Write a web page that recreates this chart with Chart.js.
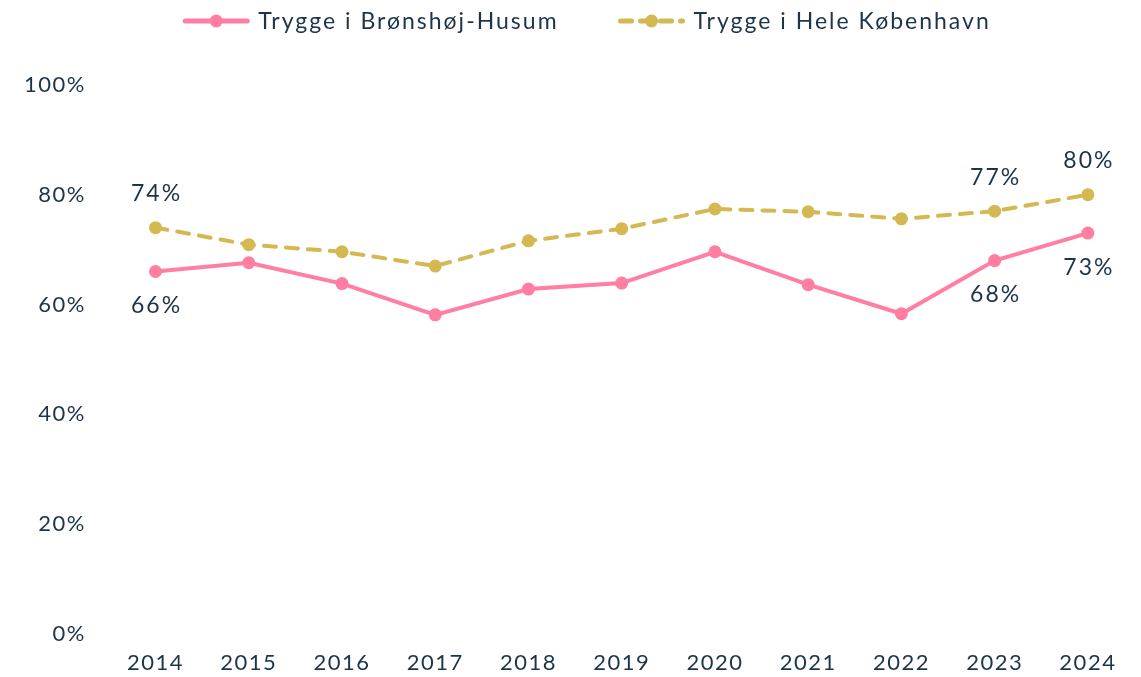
<!DOCTYPE html>
<html lang="da">
<head>
<meta charset="utf-8">
<title>Tryghed</title>
<script src="https://cdn.jsdelivr.net/npm/chart.js@4.4.1/dist/chart.umd.min.js"></script>
<style>
    html, body { margin: 0; padding: 0; background: #ffffff; }
    #wrap { width: 1141px; height: 677px; }
</style>
</head>
<body>
<div id="wrap"><canvas id="chart"></canvas></div>
<script>
const years = ['2014', '2015', '2016', '2017', '2018', '2019', '2020', '2021', '2022', '2023', '2024'];
const brønshøjHusum = [66, 67.6, 63.8, 58.1, 62.8, 63.9, 69.6, 63.6, 58.3, 68, 73];
const heleKøbenhavn = [74, 70.9, 69.6, 67.0, 71.6, 73.8, 77.4, 76.9, 75.6, 77, 80];
const yTicks = [0, 20, 40, 60, 80, 100];
// years that get a value label
const labelledIndexes = [0, 9, 10];

const textColor = '#1d3449';
const pink = '#ff7ea2';
const gold = '#d4b852';
const fontFamily = 'Lato, "Noto Sans", sans-serif';

// Lato is a bit narrow, so open up the tracking on everything drawn
const tracking = {
    id: 'tracking',
    beforeUpdate(chart) {
        chart.ctx.letterSpacing = '1.5px';
    },
    beforeDraw(chart) {
        chart.ctx.letterSpacing = '1.5px';
    }
};

// value labels: gold above its points, pink below
const valueLabels = {
    id: 'valueLabels',
    afterDatasetsDraw(chart) {
        const { ctx } = chart;
        ctx.save();
        ctx.font = `23px ${fontFamily}`;
        ctx.letterSpacing = '2px';
        ctx.fillStyle = textColor;
        ctx.textAlign = 'center';
        ctx.textBaseline = 'middle';
        chart.data.datasets.forEach((dataset, i) => {
            const meta = chart.getDatasetMeta(i);
            const offset = dataset.labelSide === 'above' ? -34 : 34;
            labelledIndexes.forEach(index => {
                const point = meta.data[index];
                ctx.fillText(Math.round(dataset.data[index]) + '%', point.x + 1, point.y + offset);
            });
        });
        ctx.restore();
    }
};

// legend with a short line sample and a marker in the middle
const lineLegend = {
    id: 'lineLegend',
    afterDraw(chart) {
        const { ctx } = chart;
        const sampleWidth = 68;
        const textGap = 8;
        const itemGap = 59;
        const y = 21;
        ctx.save();
        ctx.font = `23px ${fontFamily}`;
        ctx.letterSpacing = '2px';
        const widths = chart.data.datasets.map(d => sampleWidth + textGap + ctx.measureText(d.label).width);
        const total = widths.reduce((a, w) => a + w, 0) + itemGap * (widths.length - 1);
        let x = chart.width / 2 + 16 - total / 2;
        chart.data.datasets.forEach((dataset, i) => {
            ctx.strokeStyle = dataset.borderColor;
            ctx.fillStyle = dataset.borderColor;
            ctx.lineWidth = 5;
            ctx.lineCap = 'round';
            ctx.setLineDash(dataset.borderDash ? [11, 9] : []);
            ctx.beginPath();
            ctx.moveTo(x + 3, y);
            ctx.lineTo(x + sampleWidth - 3, y);
            ctx.stroke();
            ctx.setLineDash([]);
            ctx.beginPath();
            ctx.arc(x + sampleWidth / 2, y, 6.5, 0, Math.PI * 2);
            ctx.fill();
            ctx.fillStyle = textColor;
            ctx.textAlign = 'left';
            ctx.textBaseline = 'middle';
            ctx.fillText(dataset.label, x + sampleWidth + textGap, y + 1);
            x += widths[i] + itemGap;
        });
        ctx.restore();
    }
};

document.addEventListener('DOMContentLoaded', () => {
    const context = document.querySelector('canvas#chart').getContext('2d');

    new Chart(context, {
        type: 'line',
        data: {
            labels: years,
            datasets: [
                {
                    label: 'Trygge i Brønshøj-Husum',
                    data: brønshøjHusum,
                    borderColor: pink,
                    backgroundColor: pink,
                    borderWidth: 4,
                    pointRadius: 6.5,
                    pointBorderWidth: 0,
                    pointHoverRadius: 6.5,
                    tension: 0,
                    labelSide: 'below'
                },
                {
                    label: 'Trygge i Hele København',
                    data: heleKøbenhavn,
                    borderColor: gold,
                    backgroundColor: gold,
                    borderWidth: 4,
                    borderDash: [12, 10],
                    borderCapStyle: 'round',
                    pointRadius: 6.5,
                    pointBorderWidth: 0,
                    pointHoverRadius: 6.5,
                    tension: 0,
                    labelSide: 'above'
                }
            ]
        },
        options: {
            responsive: true,
            maintainAspectRatio: false,
            animation: false,
            layout: {
                padding: { top: 85, right: 6, left: 9, bottom: -7 }
            },
            scales: {
                x: {
                    offset: true,
                    grid: { display: false, offset: true },
                    border: { display: false },
                    ticks: {
                        color: textColor,
                        padding: 8,
                        font: { family: fontFamily, size: 22 }
                    }
                },
                y: {
                    min: 0,
                    max: 100,
                    grid: { display: false },
                    border: { display: false },
                    afterBuildTicks: axis => {
                        axis.ticks = yTicks.map(value => ({ value }));
                    },
                    ticks: {
                        color: textColor,
                        padding: 15,
                        font: { family: fontFamily, size: 22 },
                        callback: value => value + '%'
                    }
                }
            },
            plugins: {
                legend: { display: false },
                tooltip: { enabled: false }
            }
        },
        plugins: [tracking, valueLabels, lineLegend]
    });
});
</script>
</body>
</html>
